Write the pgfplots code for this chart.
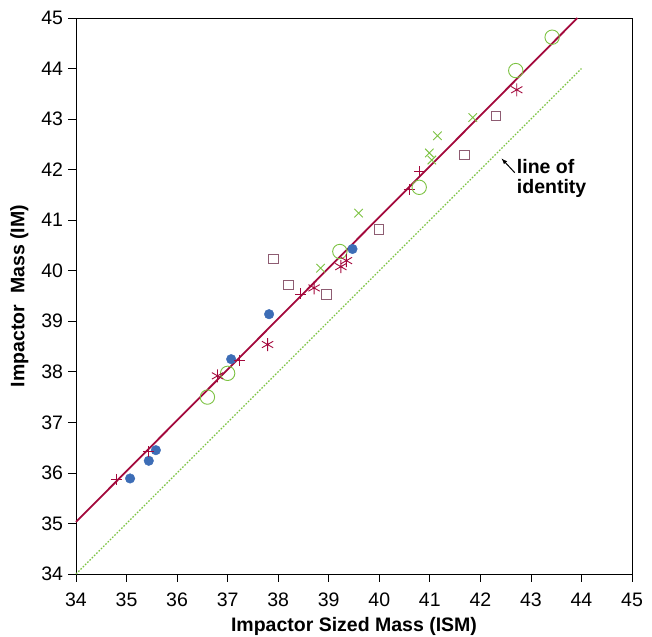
\documentclass[border=0pt]{standalone}
\usepackage{pgfplots}
\pgfplotsset{compat=1.18}
\usepackage{fontspec}
\setmainfont{Liberation Sans}
\definecolor{crim}{HTML}{A3093C}
\definecolor{bluec}{HTML}{3D6DB6}
\definecolor{greenc}{HTML}{7CC242}
\definecolor{mauve}{HTML}{8E5C72}
\begin{document}
\begin{tikzpicture}
\begin{axis}[name=ax,
  scale only axis, width=556pt, height=556pt,
  xmin=34, xmax=45, ymin=34, ymax=45,
  xtick={34,...,45}, ytick={34,...,45},
  tick align=outside, xtick pos=bottom, ytick pos=left,
  major tick length=7.5pt,
  tick style={black, line width=0.8pt},
  axis line style={black, line width=0.8pt},
  /pgf/number format/assume math mode=true,
  ticklabel style={font=\fontsize{19.5}{22}\selectfont},
  yticklabel style={xshift=-2pt},
  xticklabel style={yshift=-8pt},
  xlabel={\bfseries Impactor Sized Mass (ISM)},
  ylabel={\bfseries Impactor\ \ Mass (IM)},
  label style={font=\fontsize{19.5}{22}\selectfont},
  xlabel style={yshift=-4pt},
  ylabel style={yshift=6pt},
  clip=false,
]
\addplot[greenc, line width=1.1pt, dash pattern=on 1.6pt off 1.6pt] coordinates {(34,34) (44,44)};
\addplot[crim, line width=1.8pt] coordinates {(34,35.03) (43.92,45)};
% blue filled circles
\addplot[only marks, mark=*, mark size=4.8pt, color=bluec, mark options={draw=bluec, fill=bluec}] coordinates {
(35.07,35.89) (35.44,36.24) (35.58,36.45) (37.07,38.25) (37.82,39.14) (39.47,40.43)};
% plus
\addplot[only marks, mark=+, mark size=5.5pt, color=crim, mark options={line width=0.9pt}] coordinates {
(34.80,35.87) (35.44,36.42) (37.24,38.23) (38.45,39.54) (40.59,41.60) (40.80,41.96)};
% green open circles
\addplot[only marks, mark=o, mark size=7.2pt, color=greenc, mark options={line width=0.9pt}] coordinates {
(36.60,37.50) (37.00,37.97) (39.22,40.38) (40.79,41.65) (42.70,43.96) (43.42,44.62)};
% asterisks
\addplot[only marks, mark=asterisk, mark size=6.5pt, color=crim, mark options={line width=0.9pt}] coordinates {
(36.80,37.92) (37.79,38.54) (38.71,39.66) (39.24,40.08) (39.35,40.20) (42.72,43.58)};
% green x
\addplot[only marks, mark=x, mark size=6pt, color=greenc, mark options={line width=0.9pt}] coordinates {
(38.84,40.05) (39.59,41.14) (40.99,42.33) (41.04,42.19) (41.15,42.67) (41.85,43.03)};
% squares
\addplot[only marks, mark=square, mark size=4.8pt, color=mauve, mark options={line width=0.9pt}] coordinates {
(37.91,40.23) (38.20,39.72) (38.95,39.53) (39.99,40.82) (41.68,42.29) (42.31,43.06)};
\draw[-latex, black, line width=1pt] (axis cs:42.68,41.94) -- (axis cs:42.42,42.22);
\node[anchor=west, font=\fontsize{19.5}{22}\selectfont\bfseries, align=left, inner sep=0pt] at (axis cs:42.72,41.83) {line of\\[-2pt]identity};
\end{axis}
\pgfresetboundingbox
\path[use as bounding box] ([shift={(-76pt,-62pt)}]ax.south west) rectangle ([shift={(20pt,18pt)}]ax.north east);
\end{tikzpicture}
\end{document}
